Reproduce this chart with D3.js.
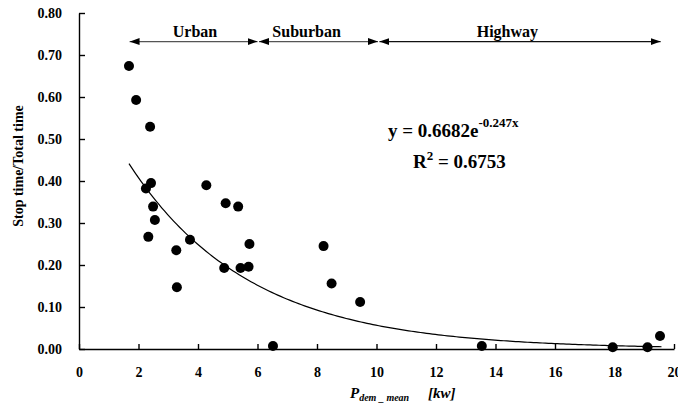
<!DOCTYPE html>
<html>
<head>
<meta charset="utf-8">
<script src="https://cdn.jsdelivr.net/npm/d3@7"></script>
<style>
  body { margin: 0; background: #fff; }
  svg text { font-family: 'Liberation Serif', 'Times New Roman', Times, 'DejaVu Serif', serif !important; font-weight: bold; }
</style>
</head>
<body>
<svg width="678" height="408"></svg>
<script>
// measured points: P_dem_mean [kw] vs stop time / total time
const pMean = [1.68, 1.92, 2.39, 2.42, 2.25, 2.49, 2.55, 2.33, 3.27, 3.29, 3.73, 4.28, 4.93,
               5.35, 5.73, 4.88, 5.43, 5.70, 6.52, 8.22, 8.49, 9.45, 13.54, 17.94, 19.11, 19.53];
const stopRatio = [0.674, 0.593, 0.529, 0.395, 0.382, 0.339, 0.307, 0.267, 0.235, 0.147, 0.260, 0.390, 0.347,
                   0.339, 0.250, 0.193, 0.193, 0.196, 0.007, 0.245, 0.156, 0.112, 0.007, 0.004, 0.004, 0.031];

// driving zones shown with arrows at the top
const zones = ['Urban', 'Suburban', 'Highway'];
const zoneFrom = [1.7, 6.05, 10.1];
const zoneTo = [6.0, 10.05, 19.55];
const zoneLabelX = [3.9, 7.65, 14.4];

// exponential trend line
const fitA = 0.6682, fitB = -0.247;
const fitRange = [1.68, 19.6];

const xTicks = d3.range(0, 21, 2);
const yTicks = d3.range(0, 0.81, 0.1);

const FONT = "'Liberation Serif', 'Times New Roman', Times, serif";

const svg = d3.select('svg');
const width = +svg.attr('width');
const height = +svg.attr('height');
const margin = {left: 79, top: 13, right: 4, bottom: 59};
const innerWidth = width - margin.left - margin.right;
const innerHeight = height - margin.top - margin.bottom;

const xScale = d3.scaleLinear().domain([0, 20]).range([0, innerWidth]);
const yScale = d3.scaleLinear().domain([0, 0.8]).range([innerHeight, 0]);

const g = svg.append('g').attr('transform', `translate(${margin.left},${margin.top})`);

// axes, ticks pointing inward
const yAxis = g.append('g')
    .call(d3.axisLeft(yScale).tickValues(yTicks).tickFormat(d3.format('.2f'))
        .tickSizeInner(-6).tickSizeOuter(0).tickPadding(17));
const xAxis = g.append('g')
    .attr('transform', `translate(0,${innerHeight})`)
    .call(d3.axisBottom(xScale).tickValues(xTicks).tickFormat(d3.format('d'))
        .tickSizeInner(-5).tickSizeOuter(0).tickPadding(18));
[xAxis, yAxis].forEach(a => {
    a.attr('font-family', FONT).attr('font-size', 14);
    a.selectAll('path, line').attr('stroke', '#000').attr('stroke-width', 1.4);
    a.selectAll('text').attr('fill', '#000');
});

// trend line
const fitX = d3.range(fitRange[0], fitRange[1] + 0.001, 0.1);
g.append('path')
    .datum(fitX)
    .attr('fill', 'none')
    .attr('stroke', '#000')
    .attr('stroke-width', 1.2)
    .attr('d', d3.line().x(d => xScale(d)).y(d => yScale(fitA * Math.exp(fitB * d))));

// points
g.selectAll('circle').data(pMean).enter().append('circle')
    .attr('cx', d => xScale(d))
    .attr('cy', (d, i) => yScale(stopRatio[i]))
    .attr('r', 5)
    .attr('fill', '#000');

// arrow markers
const defs = svg.append('defs');
defs.append('marker').attr('id', 'head-end')
    .attr('markerUnits', 'userSpaceOnUse').attr('markerWidth', 10).attr('markerHeight', 10)
    .attr('viewBox', '0 -5 10 10').attr('refX', 10).attr('refY', 0).attr('orient', 'auto')
    .append('path').attr('d', 'M0,-3.5L10,0L0,3.5Z').attr('fill', '#000');
defs.append('marker').attr('id', 'head-start')
    .attr('markerUnits', 'userSpaceOnUse').attr('markerWidth', 10).attr('markerHeight', 10)
    .attr('viewBox', '0 -5 10 10').attr('refX', 0).attr('refY', 0).attr('orient', 'auto')
    .append('path').attr('d', 'M10,-3.5L0,0L10,3.5Z').attr('fill', '#000');

const arrowY = 0.732;
g.selectAll('.zone').data(zones).enter().append('line')
    .attr('class', 'zone')
    .attr('x1', (d, i) => xScale(zoneFrom[i]))
    .attr('x2', (d, i) => xScale(zoneTo[i]))
    .attr('y1', yScale(arrowY))
    .attr('y2', yScale(arrowY))
    .attr('stroke', (d, i) => i < 2 ? '#555' : '#111')
    .attr('stroke-width', 1.3)
    .attr('marker-start', 'url(#head-start)')
    .attr('marker-end', 'url(#head-end)');
g.selectAll('.zone-label').data(zones).enter().append('text')
    .attr('class', 'zone-label')
    .attr('x', (d, i) => xScale(zoneLabelX[i]))
    .attr('y', yScale(arrowY) - 4.5)
    .attr('text-anchor', 'middle')
    .attr('font-family', FONT)
    .attr('font-size', 16)
    .text(d => d);

// equation
const eq = svg.append('text').attr('x', 388).attr('y', 137).attr('font-family', FONT).attr('font-size', 19);
eq.append('tspan').text('y = 0.6682e');
eq.append('tspan').attr('font-size', 13).attr('dy', -10).text('-0.247x');
const r2 = svg.append('text').attr('x', 413).attr('y', 168).attr('font-family', FONT).attr('font-size', 19);
r2.append('tspan').text('R');
r2.append('tspan').attr('font-size', 13).attr('dy', -8).text('2');
r2.append('tspan').attr('dy', 8).text(' = 0.6753');

// axis titles
svg.append('text')
    .attr('transform', 'translate(18,166) rotate(-90)')
    .attr('dy', '0.35em')
    .attr('text-anchor', 'middle')
    .attr('font-family', FONT)
    .attr('font-size', 14)
    .text('Stop time/Total time');

const xt = svg.append('text').attr('x', 350).attr('y', 398)
    .attr('font-family', FONT).attr('font-size', 15).attr('font-style', 'italic');
xt.append('tspan').text('P');
xt.append('tspan').attr('font-size', 10).attr('dy', 3).text('dem _ mean');
xt.append('tspan').attr('x', 428).attr('dy', -3).text('[kw]');
</script>
</body>
</html>
